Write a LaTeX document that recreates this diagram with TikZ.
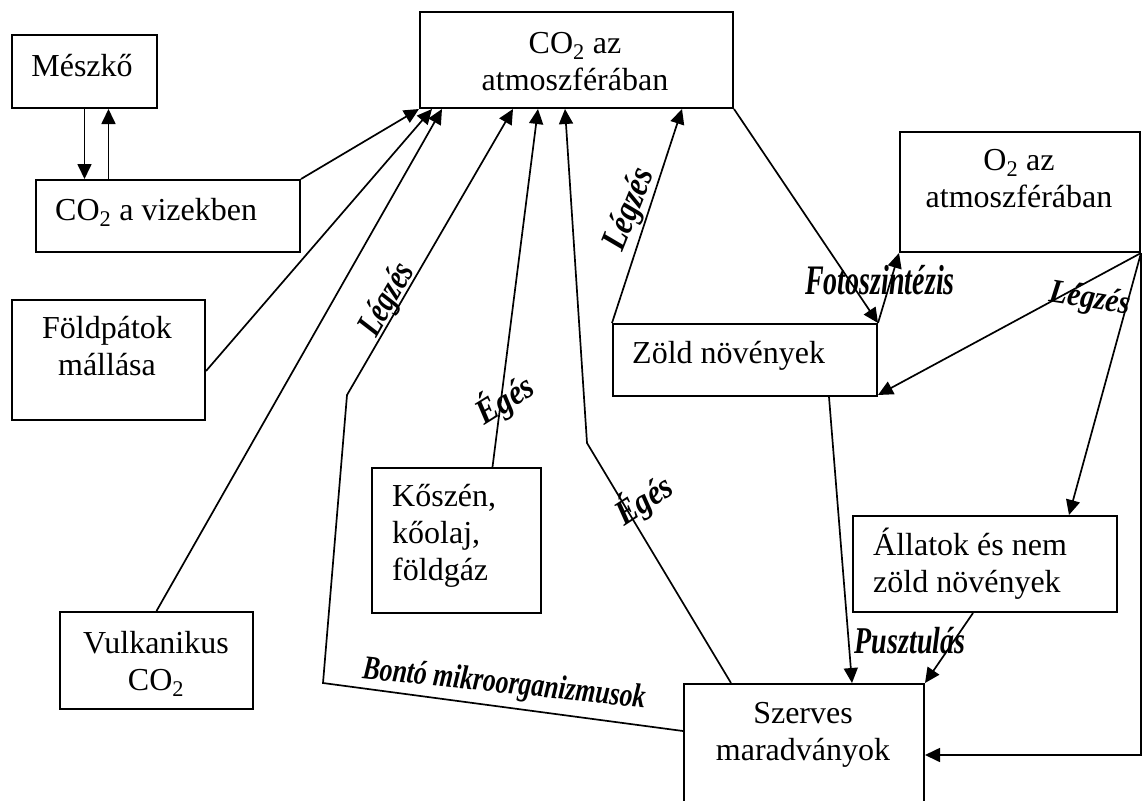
\documentclass[tikz,border=0pt]{standalone}
\usepackage{fontspec}
\setmainfont{Liberation Serif}
\usetikzlibrary{arrows.meta}

\tikzset{
  box/.style={draw, line width=2pt, anchor=north west, inner sep=0pt},
  txt/.style={font=\fontsize{32}{37}\selectfont, inner sep=0pt, align=center},
  arr/.style={line width=1.7pt, -{Triangle[length=15pt,width=14pt]}},
  lbl/.style={font=\fontsize{28}{32}\selectfont\bfseries\itshape, inner sep=0pt}
}

\begin{document}
\begin{tikzpicture}[x=1pt,y=-1pt]
  \useasboundingbox (0,0) rectangle (1142,800);
  \clip (0,0) rectangle (1142,800);

  % Boxes
  \node[box, minimum width=145pt, minimum height=73pt] (meszko) at (11,34) {};
  \node[box, minimum width=264pt, minimum height=72pt] (vizek) at (35,179) {};
  \node[box, minimum width=313pt, minimum height=96pt] (atm) at (419,11) {};
  \node[box, minimum width=193pt, minimum height=120pt] (foldpat) at (11,299) {};
  \node[box, minimum width=193pt, minimum height=97pt] (vulk) at (59,611) {};
  \node[box, minimum width=169pt, minimum height=145pt] (koszen) at (371,467) {};
  \node[box, minimum width=264pt, minimum height=72pt] (zold) at (612,323) {};
  \node[box, minimum width=240pt, minimum height=120pt] (oxi) at (899,131) {};
  \node[box, minimum width=264pt, minimum height=96pt] (allat) at (852,515) {};
  \node[box, minimum width=240pt, minimum height=125pt] (szerves) at (683,683) {};

  % Box texts (base = last line)
  \node[txt, anchor=base] (tmeszko) at (82,76) {Mészkő};
  \node[txt, anchor=base west] (tvizek) at (55,220) {CO\textsubscript{2} a vizekben};
  \node[txt, anchor=base] (tatm) at (575,90) {CO\textsubscript{2} az\\atmoszférában};
  \node[txt, anchor=base] (tfoldpat) at (107,375) {Földpátok\\mállása};
  \node[txt, anchor=base] (tvulk) at (156,690) {Vulkanikus\\CO\textsubscript{2}};
  \node[txt, anchor=base west, align=left] (tkoszen) at (392,580) {Kőszén,\\kőolaj,\\földgáz};
  \node[txt, anchor=base west] (tzold) at (632,363) {Zöld növények};
  \node[txt, anchor=base] (toxi) at (1019,207) {O\textsubscript{2} az\\atmoszférában};
  \node[txt, anchor=base west, align=left] (tallat) at (873,592) {Állatok és nem\\zöld növények};
  \node[txt, anchor=base] (tszerves) at (803,760) {Szerves\\maradványok};

  % Bend points
  \coordinate (bont1) at (323,683);
  \coordinate (bont2) at (347,395);
  \coordinate (eges1) at (587,443);

  % Connectors
  \draw[arr] (meszko.south) -- (meszko.south |- vizek.north);
  \draw[arr] ([xshift=24pt]meszko.south |- vizek.north) -- ([xshift=24pt]meszko.south);
  \draw[arr] (vizek.north east) -- (atm.south west);
  \draw[arr] ([yshift=-11pt]foldpat.east) -- ([xshift=13pt]atm.south west);
  \draw[arr] (vulk.north) -- ([xshift=23pt]atm.south west);
  \draw[arr] ([yshift=-48pt]szerves.north west) -- (bont1) -- (bont2) -- ([xshift=94pt]atm.south west);
  \draw[arr] ([xshift=36pt]koszen.north) -- ([xshift=119pt]atm.south west);
  \draw[arr] ([xshift=48pt]szerves.north west) -- (eges1) -- ([xshift=146pt]atm.south west);
  \draw[arr] (zold.north west) -- ([xshift=263pt]atm.south west);
  \draw[arr] (atm.south east) -- (zold.north east);
  \draw[arr] (zold.north east) -- (oxi.south west);
  \draw[arr] (oxi.south east) -- ([yshift=2pt]zold.south east);
  \draw[arr] (oxi.south east) -- ([xshift=84pt]allat.north);
  \draw[arr] (oxi.south east) |- ([yshift=-72pt]szerves.north east);
  \draw[arr] ([xshift=84pt]zold.south) -- ([xshift=48pt]szerves.north);
  \draw[arr] ([xshift=-12pt]allat.south) -- (szerves.north east);

  % Process labels
  \node[lbl, rotate=60] (lleg1) at (388,300) {\scalebox{1}[1.3]{Légzés}};
  \node[lbl, rotate=68] (lleg2) at (630,210) {\scalebox{1.1}[1.3]{Légzés}};
  \node[lbl, rotate=-9] (lleg3) at (1090,300) {\scalebox{1.05}[1.2]{Légzés}};
  \node[lbl, rotate=32] (leges1) at (505,400) {\scalebox{1.1}[1.25]{Égés}};
  \node[lbl, rotate=33] (leges2) at (644,500) {\scalebox{1.1}[1.25]{Égés}};
  \node[lbl] (lfoto) at (880,280) {\scalebox{1}[1.5]{Fotoszintézis}};
  \node[lbl] (lpuszt) at (910,641) {\scalebox{1}[1.35]{Pusztulás}};
  \node[lbl, rotate=-6] (lbonto) at (504,685) {\scalebox{0.92}[1.2]{Bontó mikroorganizmusok}};
\end{tikzpicture}
\end{document}
